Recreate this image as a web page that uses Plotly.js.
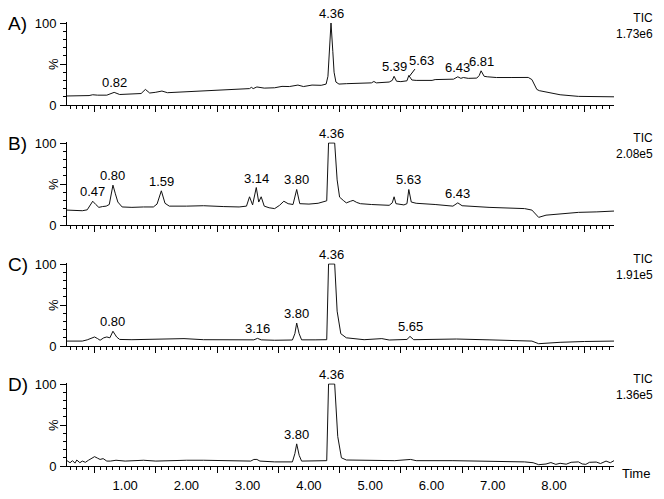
<!DOCTYPE html>
<html>
<head>
<meta charset="utf-8">
<script src="https://cdn.plot.ly/plotly-3.0.1.min.js"></script>
<style>html,body{margin:0;padding:0;background:#fff;}#chart{width:664px;height:499px;}</style>
</head>
<body>
<div id="chart"></div>
<script>
// ---------- data (retention time in min, relative intensity in %) ----------
const timeA = [0.05,0.30,0.41,0.47,0.55,0.70,0.82,0.91,1.11,1.26,1.33,1.40,1.49,1.60,1.69,2.00,2.28,2.60,2.86,3.03,3.06,3.09,3.15,3.27,3.44,3.56,3.68,3.82,3.91,4.05,4.20,4.28,4.31,4.33,4.36,4.39,4.41,4.44,4.49,4.61,4.80,5.02,5.06,5.10,5.31,5.36,5.39,5.43,5.50,5.60,5.63,5.68,5.75,6.01,6.06,6.20,6.36,6.43,6.48,6.52,6.60,6.74,6.78,6.81,6.86,6.91,7.06,7.30,7.58,7.64,7.68,7.72,7.76,7.87,8.10,8.40,8.98];
const pctA  = [11,11,11.5,12.5,12,12,15.4,12.8,13.4,14,19,14.6,15.4,17,15,16,17,18,19,20,21.5,20,22,20.6,21,22.7,22.5,24.3,22.5,24.3,24,25.5,35,60,100,65,40,28,25.5,26,26.5,27,28.7,27,28,30,35,29,28.5,29.5,36,30.5,30,30,31,31,31.5,34.4,32.5,33.5,32.5,32.8,36,41.7,35,34.4,33.5,33.5,33.6,31,25,19,17.5,16,12.5,10.5,10];

const timeB = [0.05,0.20,0.30,0.38,0.43,0.47,0.52,0.57,0.63,0.69,0.74,0.77,0.80,0.84,0.88,0.95,1.11,1.30,1.46,1.52,1.59,1.65,1.72,2.00,2.28,2.60,2.86,2.98,3.03,3.08,3.14,3.18,3.22,3.27,3.35,3.44,3.52,3.59,3.66,3.74,3.80,3.85,4.00,4.15,4.22,4.29,4.32,4.42,4.46,4.50,4.56,4.61,4.68,4.72,4.78,4.84,5.02,5.31,5.36,5.39,5.42,5.55,5.60,5.63,5.67,5.75,6.06,6.35,6.43,6.50,6.94,7.20,7.52,7.64,7.70,7.75,7.87,8.10,8.40,8.70,8.98];
const pctB  = [18.2,17.5,17.4,18.5,24,29,25,21.5,22.5,23,25,35,48.6,38,28,22,21.5,22,22,25.5,41.7,26.5,23,23,23.5,22.5,22,23,34.4,24.5,45.7,28,34.4,23,21,20,24,29,26,25,43.3,26,25.5,26.5,28,29.5,100,100,55,34,30,27,29,30,27.5,26,25,24,27,34.4,26,24.5,26,43.3,28,26.5,25,23,27,23.5,21.5,21,20,18.2,14,9.3,12,13.5,15.4,16,17];

const timeC = [0.05,0.30,0.38,0.44,0.50,0.55,0.59,0.65,0.70,0.75,0.80,0.86,0.91,1.11,1.40,1.69,1.96,2.28,2.60,2.86,3.10,3.16,3.22,3.44,3.73,3.77,3.80,3.84,3.88,4.10,4.29,4.32,4.42,4.46,4.52,4.61,4.90,5.19,5.31,5.60,5.65,5.71,6.00,6.41,6.94,7.52,7.64,7.75,8.10,8.50,8.98];
const pctC  = [6,6,7.5,9.3,11,9,7,10,11,10,18,11,8,7.7,8,8,9,7.7,7.5,7.3,7.5,9.3,7.5,7,7.3,15,28,15,7.5,7.5,7.7,100,100,42.5,15,10,7.7,9,7.3,8,11.7,7.7,7.7,8.5,7.5,7,6,2.8,4.5,5.5,6];

const timeD = [0.05,0.10,0.14,0.18,0.21,0.26,0.30,0.35,0.40,0.46,0.50,0.55,0.59,0.64,0.70,0.76,0.85,1.00,1.11,1.30,1.50,1.69,2.00,2.28,2.60,2.86,3.05,3.10,3.15,3.20,3.44,3.73,3.77,3.80,3.84,3.88,4.10,4.29,4.32,4.42,4.47,4.53,4.61,4.90,5.19,5.40,5.66,5.75,6.35,7.00,7.52,7.66,7.75,7.87,7.95,8.03,8.10,8.20,8.28,8.40,8.46,8.52,8.58,8.69,8.76,8.85,8.92,8.98];
const pctD  = [6.5,4,6.5,3.5,7.3,4,6,4.5,7,10,11.4,9.5,8,9,6,6,7,6,6.5,7,6,6.5,7,7,6.5,5.7,6,8,8,6,5,5,15,27,13,6,6,6.5,100,100,36,10,7.3,7,7.5,6.5,8,6.5,6.5,6,5,4,1.6,2.4,4.2,2,3.3,2.2,4.5,5,2.5,2,4.5,4.8,3,6,4,6.5];

const panelNames = ['A)','B)','C)','D)'];
const ticValues  = ['1.73e6','2.08e5','1.91e5','1.36e5'];
const peakLabelsA = ['0.82','4.36','5.39','5.63','6.43','6.81'];
const peakLabelsB = ['0.47','0.80','1.59','3.14','3.80','4.36','5.63','6.43'];
const peakLabelsC = ['0.80','3.16','3.80','4.36','5.65'];
const peakLabelsD = ['3.80','4.36'];
const xTickValues = [1,2,3,4,5,6,7,8];
const xTickText   = ['1.00','2.00','3.00','4.00','5.00','6.00','7.00','8.00'];
const yTickValues = [0,50,100];
const yTickText   = ['0','','100'];

// ---------- layout ----------
const W = 664, H = 499, L = 67, R = 50;
const PW = W - L - R;
const zeroPx = [105, 225, 346, 466];
const pxPerPct = 0.82;
const YMAX = 101;
const XRANGE = [0.05, 8.98];
const FONT = 'Liberation Sans, Arial, sans-serif';
const series = [[timeA,pctA],[timeB,pctB],[timeC,pctC],[timeD,pctD]];
const peakLabels = [peakLabelsA,peakLabelsB,peakLabelsC,peakLabelsD];

const traces = [];
const layout = {
  width: W, height: H,
  margin: {l: L, r: R, t: 0, b: 0},
  paper_bgcolor: '#fff', plot_bgcolor: '#fff',
  showlegend: false,
  font: {family: FONT, size: 13, color: '#000'},
  annotations: []
};
function px2paperX(px){ return (px - L) / PW; }
function px2paperY(py){ return 1 - py / H; }

for (let i = 0; i < 4; i++) {
  const n = i === 0 ? '' : String(i + 1);
  const xa = 'x' + n, ya = 'y' + n;
  traces.push({
    x: series[i][0], y: series[i][1], type: 'scatter', mode: 'lines',
    xaxis: xa, yaxis: ya, line: {color: '#111', width: 1}, hoverinfo: 'skip'
  });
  const z = zeroPx[i];
  const top = z - YMAX * pxPerPct;
  layout['xaxis' + n] = {
    anchor: ya, range: XRANGE, showgrid: false, zeroline: false,
    showline: true, linecolor: '#000', linewidth: 1,
    ticks: 'outside', tickvals: [0.5,1.5,2.5,3.5,4.5,5.5,6.5,7.5,8.5], ticklen: 6, tickcolor: '#000', tickwidth: 1,
    showticklabels: false,
    minor: {dtick: 0.1, tick0: 0, ticks: 'outside', ticklen: 3, tickcolor: '#000', tickwidth: 1, showgrid: false},
    fixedrange: true
  };
  layout['yaxis' + n] = {
    anchor: xa, domain: [1 - z / H, 1 - top / H], range: [0, YMAX],
    showgrid: false, zeroline: false, showline: true, linecolor: '#000', linewidth: 1,
    ticks: 'outside', tickvals: yTickValues, ticktext: yTickText, ticklen: 6, tickcolor: '#000',
    tickfont: {size: 13, family: FONT, color: '#000'}, ticklabelstandoff: 1,
    minor: {dtick: 10, tick0: 0, ticks: 'outside', ticklen: 3, tickcolor: '#000', showgrid: false},
    fixedrange: true
  };
  // panel letter
  layout.annotations.push({xref: 'paper', yref: ya, x: px2paperX(17.5), y: 99, xanchor: 'center', yanchor: 'middle',
    text: panelNames[i], showarrow: false, font: {size: 19, family: FONT, color: '#000'}});
  // % label
  layout.annotations.push({xref: 'paper', yref: ya, x: px2paperX(53), y: 50, xanchor: 'center', yanchor: 'middle',
    text: '%', textangle: -90, showarrow: false, font: {size: 13, family: FONT, color: '#000'}});
  // TIC + scale value (one two-line text)
  layout.annotations.push({xref: 'paper', yref: 'paper', x: px2paperX(654), y: px2paperY(z - 79), xanchor: 'right', yanchor: 'middle',
    text: 'TIC<br>' + ticValues[i], align: 'right', borderpad: 0, showarrow: false, font: {size: 12, family: FONT, color: '#000'}});
  // peak labels
  const [ts, vs] = series[i];
  peakLabels[i].forEach(lbl => {
    const t = parseFloat(lbl);
    let m = 0;
    for (let k = 0; k < ts.length; k++) if (Math.abs(ts[k] - t) <= 0.05) m = Math.max(m, vs[k]);
    m = Math.min(m, 100);
    const ann = {xref: xa, yref: ya, x: t, y: m, xanchor: 'center', yanchor: 'bottom', yshift: 0,
      text: lbl, showarrow: false, font: {size: 13, family: FONT, color: '#000'}};
    if (i === 0 && lbl === '5.63') {
      Object.assign(ann, {showarrow: true, arrowhead: 0, arrowwidth: 1, arrowcolor: '#000', ax: 13, ay: -17, standoff: 1,
        xanchor: 'center', yanchor: 'middle'});
      ann.y = m - 2;
    }
    layout.annotations.push(ann);
  });
}
// tick labels for the bottom panel on an overlaid axis
layout.xaxis5 = {
  overlaying: 'x4', anchor: 'y4', range: XRANGE, showgrid: false, zeroline: false, showline: false,
  ticks: 'outside', tickvals: xTickValues, ticktext: xTickText, ticklen: 3, tickcolor: '#000',
  tickfont: {size: 13, family: FONT, color: '#000'}, ticklabelstandoff: 4, side: 'bottom', fixedrange: true
};
traces.push({x: [], y: [], type: 'scatter', mode: 'lines', xaxis: 'x5', yaxis: 'y4', hoverinfo: 'skip', showlegend: false});
// Time label
layout.annotations.push({xref: 'paper', yref: 'paper', x: px2paperX(636), y: px2paperY(473), xanchor: 'center', yanchor: 'middle',
  text: 'Time', showarrow: false, font: {size: 13, family: FONT, color: '#000'}});

Plotly.newPlot('chart', traces, layout, {displayModeBar: false, staticPlot: true});
</script>
</body>
</html>
